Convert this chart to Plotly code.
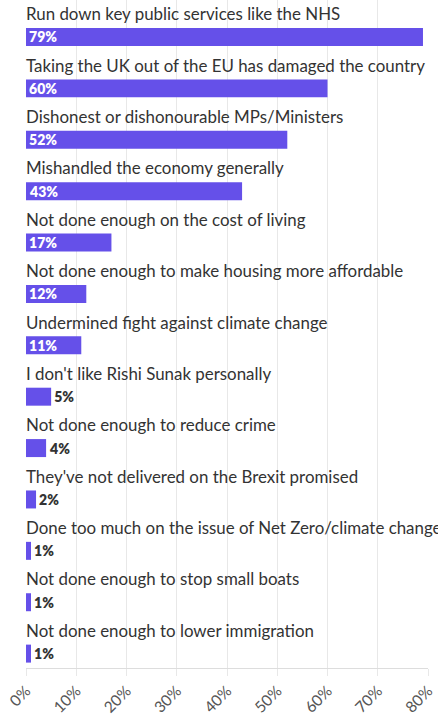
import plotly.graph_objects as go

categories = [
    "Run down key public services like the NHS",
    "Taking the UK out of the EU has damaged the country",
    "Dishonest or dishonourable MPs/Ministers",
    "Mishandled the economy generally",
    "Not done enough on the cost of living",
    "Not done enough to make housing more affordable",
    "Undermined fight against climate change",
    "I don't like Rishi Sunak personally",
    "Not done enough to reduce crime",
    "They've not delivered on the Brexit promised",
    "Done too much on the issue of Net Zero/climate change",
    "Not done enough to stop small boats",
    "Not done enough to lower immigration",
]
values = [79, 60, 52, 43, 17, 12, 11, 5, 4, 2, 1, 1, 1]
tick_vals = [0, 10, 20, 30, 40, 50, 60, 70, 80]
tick_text = ["0%", "10%", "20%", "30%", "40%", "50%", "60%", "70%", "80%"]

BAR = "#6550e9"
FONT = "Lato"

positions = ["inside" if v >= 10 else "outside" for v in values]
colors = ["white" if v >= 10 else "#333333" for v in values]

fig = go.Figure()
fig.add_trace(go.Bar(
    x=values, y=categories, orientation="h",
    marker=dict(color=BAR, line=dict(width=0)),
    width=0.35, offset=0.045,
    text=[f"{v}%" for v in values],
    textposition=positions,
    insidetextanchor="start",
    textfont=dict(family=FONT, size=14, color=colors, weight=800),
    constraintext="none",
    cliponaxis=False,
    hoverinfo="skip",
))

for c in categories:
    fig.add_annotation(
        x=0, y=c, xref="x", yref="y", text=c, showarrow=False,
        xanchor="left", yanchor="middle", yshift=12, xshift=-2,
        font=dict(family=FONT, size=16.9, color="#333333"),
    )

fig.update_layout(
    width=438, height=716,
    margin=dict(l=26, r=10, t=0, b=48),
    paper_bgcolor="white", plot_bgcolor="white",
    showlegend=False,
    font=dict(family=FONT),
    xaxis=dict(
        range=[0, 80], tickvals=tick_vals, ticktext=tick_text,
        tickangle=-45, showgrid=True, gridcolor="#e8e8e8", gridwidth=1,
        zeroline=False, showline=True, linecolor="#dddddd",
        ticks="outside", ticklen=7, tickcolor="#e8e8e8",
        tickfont=dict(family=FONT, size=15.5, color="#555555"),
        fixedrange=True, automargin=False,
    ),
    yaxis=dict(
        type="category", range=[12.5, -0.5], showticklabels=False,
        showgrid=False, zeroline=False, showline=False, ticks="",
        fixedrange=True, automargin=False,
    ),
)

fig.write_html(
    "out.html",
    config={"displayModeBar": False},
    post_script="document.body.style.margin='0';document.body.style.overflow='hidden';",
)
